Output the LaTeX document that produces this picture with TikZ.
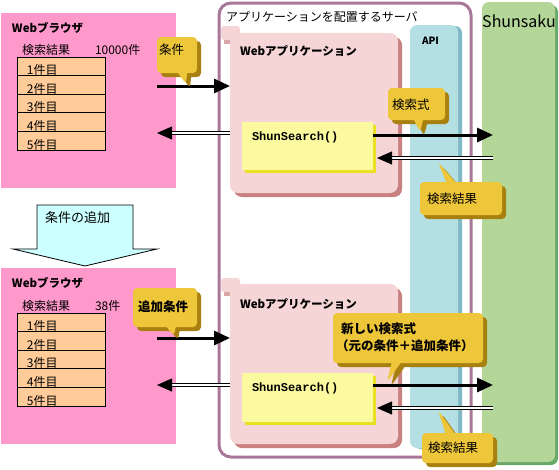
\documentclass[tikz,border=0pt]{standalone}
\usepackage{xcolor}
\usepackage{fontspec}
\usepackage{tikz}
\usetikzlibrary{arrows.meta,shapes.callouts,shadows}
\setmainfont{Noto Sans CJK JP}
\newfontfamily\codefont{Liberation Mono}

\definecolor{browserpink}{HTML}{FF99CC}
\definecolor{rowpeach}{HTML}{FFCC99}
\definecolor{serverpurple}{HTML}{A87898}
\definecolor{appfill}{HTML}{F5D5D5}
\definecolor{appshadow}{HTML}{C88080}
\definecolor{searchfill}{HTML}{FBFA9E}
\definecolor{searchshadow}{HTML}{E8E020}
\definecolor{apifill}{HTML}{B4E0E4}
\definecolor{apishadow}{HTML}{80B8C4}
\definecolor{shunfill}{HTML}{B4D698}
\definecolor{shunshadow}{HTML}{68A868}
\definecolor{callgold}{HTML}{EEC63A}
\definecolor{calldark}{HTML}{A88010}
\definecolor{addcyan}{HTML}{CCFFFF}

\begin{document}
\begin{tikzpicture}[x=1pt,y=-1pt,
							font=\fontsize{12}{14}\selectfont,
							every node/.style={inner sep=0pt,outer sep=0pt},
							browser/.style={fill=browserpink,anchor=north west,minimum width=175},
							listrow/.style={draw,line width=1pt,fill=rowpeach,anchor=north west,minimum width=88,minimum height=18.6},
							title/.style={anchor=base west,font=\fontsize{11.5}{13}\selectfont\bfseries},
							caption/.style={anchor=base west},
							server/.style={draw=serverpurple,line width=3pt,fill=white,rounded corners=12,anchor=north west,minimum width=252,minimum height=454},
							app/.style={fill=appfill,rounded corners=8,anchor=north west,minimum width=168,minimum height=160,
								drop shadow={shadow xshift=4pt,shadow yshift=-4pt,fill=appshadow,opacity=1}},
							search/.style={fill=searchfill,anchor=north west,minimum width=131,minimum height=48,
								drop shadow={shadow xshift=3pt,shadow yshift=-3pt,fill=searchshadow,opacity=1}},
							code/.style={anchor=base west,font=\codefont\bfseries\fontsize{12}{14}\selectfont},
							api/.style={fill=apifill,rounded corners=7,anchor=north west,minimum width=48,minimum height=423,
								drop shadow={shadow xshift=4pt,shadow yshift=-1pt,fill=apishadow,opacity=1}},
							engine/.style={fill=shunfill,rounded corners=7,anchor=north west,minimum width=73,minimum height=460,
								drop shadow={shadow xshift=3pt,shadow yshift=-3pt,fill=shunshadow,opacity=1}},
							call/.style={rectangle callout,fill=callgold,rounded corners=4,callout pointer width=9pt,
								drop shadow={shadow xshift=4pt,shadow yshift=-4pt,fill=calldark,opacity=1}},
							calltext/.style={anchor=base west,font=\fontsize{12.5}{15}\selectfont},
							req/.style={line width=3pt,-{Triangle[length=16pt,width=14pt]}},
							resline/.style={double,double distance=2pt,line width=.8pt,shorten >=14pt},
							restip/.style={line width=.8pt,-{Triangle[length=15pt,width=13pt]}},
							addarrow/.style={draw,line width=.8pt,fill=addcyan}]
			\useasboundingbox (0,0) rectangle (559,469);

			% browser before / after
			\node[browser,minimum height=175] (browserA) at (1,13) {};
			\node[title] (browserTitleA) at (12,32) {Webブラウザ};
			\node[caption] (hitsA) at (22,54) {検索結果};
			\node[caption] (countA) at (95,54) {10000件};
			\foreach \i in {1,...,5}{
				\node[listrow] (listA\i) at (17,{57+(\i-1)*18.6}) {};
				\node[caption] (itemA\i) at ([xshift=10pt,yshift=1pt]listA\i.south west) {\i{}件目};
			}

			\node[browser,minimum height=176] (browserB) at (1,268) {};
			\node[title] (browserTitleB) at (12,287) {Webブラウザ};
			\node[caption] (hitsB) at (22,310) {検索結果};
			\node[caption] (countB) at (95,310) {38件};
			\foreach \i in {1,...,5}{
				\node[listrow] (listB\i) at (17,{313+(\i-1)*18.6}) {};
				\node[caption] (itemB\i) at ([xshift=10pt,yshift=1pt]listB\i.south west) {\i{}件目};
			}

			% add condition
			\draw[addarrow] (37,205) -- (133,205) -- (133,249) -- (157,249) -- (85,266) -- (13,249) -- (37,249) -- cycle;
			\node[caption,font=\fontsize{13}{15}\selectfont] (addText) at (45,222) {条件の追加};

			% server and Shunsaku
			\node[engine] (shunsaku) at (482,2) {};
			\node[anchor=base,font=\fontsize{16}{19}\selectfont] (shunsakuTitle) at (519,27) {Shunsaku};
			\node[server] (server) at (219,3) {};
			\node[caption] (serverTitle) at (226,21) {アプリケーションを配置するサーバ};
			\node[api] (api) at (410,25) {};
			\node[title,font=\fontsize{10}{12}\selectfont\bfseries] (apiTitle) at (422,44) {API};

			\fill[appshadow!70] (224,38) rectangle (231,44);
			\fill[appfill,rounded corners=3] (221,26) rectangle (240,40);
			\node[app] (appA) at (230,33) {};
			\node[title] (appTitleA) at (240,55) {Webアプリケーション};
			\node[search] (searchA) at (242,122) {};
			\node[code] (callerA) at (252,140) {ShunSearch()};

			\fill[appshadow!70] (224,290) rectangle (231,296);
			\fill[appfill,rounded corners=3] (221,278) rectangle (240,292);
			\node[app] (appB) at (230,284) {};
			\node[title] (appTitleB) at (240,308) {Webアプリケーション};
			\node[search,minimum height=49] (searchB) at (242,373) {};
			\node[code] (callerB) at (252,391) {ShunSearch()};

			% requests and results
			\coordinate (condA) at (157,86);
			\coordinate (backA) at (157,133);
			\coordinate (queryA) at (493,135);
			\coordinate (hitA) at (493,158);
			\coordinate (hitEndA) at (377,158);
			\coordinate (condB) at (157,338);
			\coordinate (backB) at (157,385);
			\coordinate (queryB) at (493,385);
			\coordinate (hitB) at (493,408);
			\coordinate (hitEndB) at (377,408);

			\draw[req] (condA) -- (appA.west |- condA);
			\draw[resline] (appA.west |- backA) -- (backA);
			\draw[restip] ([xshift=14pt]backA) -- (backA);
			\draw[req] (searchA.east |- queryA) -- (queryA);
			\draw[resline] (hitA) -- (hitEndA);
			\draw[restip] ([xshift=14pt]hitEndA) -- (hitEndA);

			\draw[req] (condB) -- (appB.west |- condB);
			\draw[resline] (appB.west |- backB) -- (backB);
			\draw[restip] ([xshift=14pt]backB) -- (backB);
			\draw[req] (searchB.east |- queryB) -- (queryB);
			\draw[resline] (hitB) -- (hitEndB);
			\draw[restip] ([xshift=14pt]hitEndB) -- (hitEndB);

			% callouts
			\node[call,minimum width=40,minimum height=36,callout absolute pointer={(186,84)}] (callCond) at (177,55) {};
			\node[calltext] (condText) at (159,54) {条件};
			\node[call,minimum width=57,minimum height=32,callout absolute pointer={(420,132)}] (callQuery) at (416.5,104) {};
			\node[calltext] (queryText) at (392,109) {検索式};
			\node[call,minimum width=82,minimum height=33,callout absolute pointer={(438,162)}] (callHitA) at (461,198.5) {};
			\node[calltext] (hitTextA) at (427,203) {検索結果};

			\node[call,minimum width=64,minimum height=39,callout absolute pointer={(174,336)}] (callAdd) at (165,307.5) {};
			\node[calltext,font=\fontsize{12.5}{15}\selectfont\bfseries] (addCondText) at (138,311) {追加条件};
			\node[call,minimum width=150,minimum height=50,callout absolute pointer={(387,382)}] (callNew) at (408,338) {};
			\node[calltext,font=\fontsize{12.5}{15}\selectfont\bfseries] (newText) at (341,333) {新しい検索式};
			\node[calltext,font=\fontsize{12.5}{15}\selectfont\bfseries] (newSubText) at (336,350) {（元の条件＋追加条件）};
			\node[call,minimum width=71,minimum height=30,callout absolute pointer={(438,410)}] (callHitB) at (457.5,448) {};
			\node[calltext] (hitTextB) at (428,452) {検索結果};
		\end{tikzpicture}
\end{document}
